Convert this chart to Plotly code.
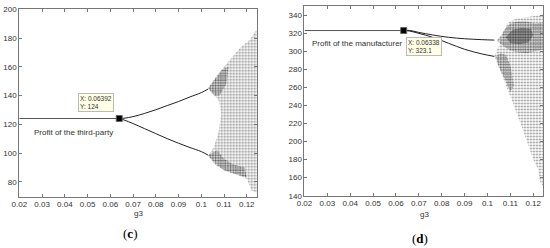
import plotly.graph_objects as go

# ---- panel (c): profit of the third-party ----
flat_x_c = [0.02, 0.06392]
flat_y_c = [124, 124]
branch_x_c = [0.06392, 0.066, 0.07, 0.075, 0.08, 0.085, 0.09, 0.095, 0.1, 0.103]
upper_y_c = [124, 124.2, 125.3, 127.5, 130.1, 133, 135.8, 139, 142, 144.5]
lower_y_c = [124, 123, 120.5, 117, 113.5, 110, 106.8, 103.8, 101, 98.5]
# envelope of the chaotic cloud
cloud_x_c = [0.103, 0.107, 0.11, 0.114, 0.117, 0.12, 0.1215, 0.123, 0.1245,
             0.1245, 0.122, 0.12, 0.117, 0.113, 0.11, 0.107, 0.103,
             0.1055, 0.1075, 0.1088, 0.1078, 0.1055, 0.103]
cloud_y_c = [145, 153, 160, 167, 173, 177, 179, 183, 186,
             72, 74, 82, 84, 86, 88, 92, 98,
             104, 114, 127, 136, 141, 145]
dense_up_x_c = [0.103, 0.106, 0.109, 0.112, 0.111, 0.108, 0.1055, 0.103]
dense_up_y_c = [145, 152, 158, 160, 148, 140, 140, 145]
dense_lo_x_c = [0.103, 0.106, 0.11, 0.114, 0.118, 0.12, 0.119, 0.114, 0.11, 0.107, 0.103]
dense_lo_y_c = [98.5, 92, 88, 86, 84, 83, 90, 92, 96, 102, 98.5]

# ---- panel (d): profit of the manufacturer ----
flat_x_d = [0.02, 0.06338]
flat_y_d = [323.1, 323.1]
branch_x_d = [0.06338, 0.066, 0.07, 0.076, 0.083, 0.09, 0.0975, 0.103]
upper_y_d = [323.1, 323.2, 321, 318.2, 315.6, 314, 313, 312.5]
lower_y_d = [323.1, 322.5, 320, 315.6, 309, 302.3, 297.2, 294.4]
cloud_x_d = [0.103, 0.105, 0.107, 0.109, 0.112, 0.117, 0.1245,
             0.1245, 0.123, 0.122, 0.12, 0.118, 0.116, 0.113, 0.11, 0.107, 0.105, 0.103]
cloud_y_d = [295, 306, 322, 332, 336, 338, 341,
             150, 155, 170, 180, 195, 210, 230, 250, 268, 282, 295]
blob_x_d = [0.104, 0.106, 0.108, 0.11, 0.113, 0.117, 0.121, 0.1245,
            0.1245, 0.121, 0.117, 0.113, 0.11, 0.108, 0.106, 0.104]
blob_y_d = [312, 318, 326, 331, 333, 333, 331, 332,
            302, 300, 298, 299, 301, 304, 308, 312]
core_x_d = [0.108, 0.111, 0.115, 0.119, 0.12, 0.118, 0.114, 0.11, 0.108]
core_y_d = [316, 324, 326, 325, 318, 310, 308, 309, 316]
fan_x_d = [0.1035, 0.106, 0.108, 0.11, 0.1115, 0.11, 0.1075, 0.105, 0.1035]
fan_y_d = [295, 298, 296, 285, 262, 255, 270, 283, 295]

x_ticks = [0.02, 0.03, 0.04, 0.05, 0.06, 0.07, 0.08, 0.09, 0.1, 0.11, 0.12]
x_labels = ["0.02", "0.03", "0.04", "0.05", "0.06", "0.07", "0.08", "0.09", "0.1", "0.11", "0.12"]
y_ticks_c = [80, 100, 120, 140, 160, 180, 200]
y_ticks_d = [140, 160, 180, 200, 220, 240, 260, 280, 300, 320, 340]

fig = go.Figure()


def cloud(x, y, xa, ya, size, solidity):
    fig.add_trace(go.Scatter(
        x=x, y=y, xaxis=xa, yaxis=ya, mode="lines", line=dict(width=0),
        fill="toself", fillcolor="rgba(0,0,0,0)",
        fillpattern=dict(shape=".", fgcolor="#111", bgcolor="rgba(0,0,0,0)",
                         size=size, solidity=solidity),
        hoverinfo="skip"))


def line(x, y, xa, ya, color="#222"):
    fig.add_trace(go.Scatter(x=x, y=y, xaxis=xa, yaxis=ya, mode="lines",
                             line=dict(color=color, width=1, shape="spline"),
                             hoverinfo="skip"))


# panel c
cloud(cloud_x_c, cloud_y_c, "x", "y", 3, 0.38)
cloud(dense_up_x_c, dense_up_y_c, "x", "y", 2.5, 0.5)
cloud(dense_lo_x_c, dense_lo_y_c, "x", "y", 2.5, 0.5)
line(flat_x_c, flat_y_c, "x", "y", "#555")
line(branch_x_c, upper_y_c, "x", "y")
line(branch_x_c, lower_y_c, "x", "y")
fig.add_trace(go.Scatter(x=[0.06392], y=[124], xaxis="x", yaxis="y", mode="markers",
                         marker=dict(symbol="square", size=6, color="black",
                                     line=dict(color="#666", width=1)),
                         hoverinfo="skip"))

# panel d
cloud(cloud_x_d, cloud_y_d, "x2", "y2", 3, 0.28)
cloud(fan_x_d, fan_y_d, "x2", "y2", 2.5, 0.5)
cloud(blob_x_d, blob_y_d, "x2", "y2", 2.5, 0.5)
cloud(core_x_d, core_y_d, "x2", "y2", 2, 0.7)
line(flat_x_d, flat_y_d, "x2", "y2", "#555")
line(branch_x_d, upper_y_d, "x2", "y2")
line(branch_x_d, lower_y_d, "x2", "y2")
fig.add_trace(go.Scatter(x=[0.06338], y=[323.1], xaxis="x2", yaxis="y2", mode="markers",
                         marker=dict(symbol="square", size=6, color="black",
                                     line=dict(color="#666", width=1)),
                         hoverinfo="skip"))

tick_font = dict(family="Liberation Sans, Arial", size=8, color="#333")
ax_common = dict(showgrid=False, zeroline=False, showline=True, linecolor="#777",
                 linewidth=1, mirror="ticks", ticks="inside", ticklen=3,
                 tickcolor="#777", tickfont=tick_font, automargin=False)

tip_font = dict(family="Liberation Sans, Arial", size=6.5, color="#333")
fig.update_layout(
    width=550, height=248,
    margin=dict(l=0, r=0, t=0, b=0),
    paper_bgcolor="white", plot_bgcolor="white",
    showlegend=False, hovermode=False,
    xaxis=dict(domain=[0.0351, 0.4673], range=[0.02, 0.1245], tickvals=x_ticks,
               ticktext=x_labels, anchor="y", **ax_common),
    yaxis=dict(domain=[0.2069, 0.9625], range=[69.6, 200], tickvals=y_ticks_c,
               anchor="x", **ax_common),
    xaxis2=dict(domain=[0.5536, 0.9878], range=[0.02, 0.1244], tickvals=x_ticks,
                ticktext=x_labels, anchor="y2", **ax_common),
    yaxis2=dict(domain=[0.2109, 0.9758], range=[140, 350.3], tickvals=y_ticks_d,
                anchor="x2", **ax_common),
    annotations=[
        dict(x=0.06392, y=124, xref="x", yref="y", text="X: 0.06392<br>Y: 124",
             showarrow=False, xanchor="right", yanchor="bottom", xshift=-5, yshift=7,
             align="left", bgcolor="#ffffe6", bordercolor="#bbb", borderwidth=1,
             borderpad=1, font=tip_font),
        dict(x=0.06338, y=323.1, xref="x2", yref="y2", text="X: 0.06338<br>Y: 323.1",
             showarrow=False, xanchor="left", yanchor="top", xshift=2, yshift=-6,
             align="left", bgcolor="#ffffe6", bordercolor="#bbb", borderwidth=1,
             borderpad=1, font=tip_font),
        dict(x=0.02545, y=114.6, xref="x", yref="y", text="Profit of the third-party",
             showarrow=False, xanchor="left",
             font=dict(family="Liberation Sans, Arial", size=8, color="#333")),
        dict(x=0.0225, y=309, xref="x2", yref="y2", text="Profit of the manufacturer",
             showarrow=False, xanchor="left",
             font=dict(family="Liberation Sans, Arial", size=8, color="#333")),
        dict(x=138, y=213, xref="paper", yref="paper", text="g3", showarrow=False,
             font=dict(family="Liberation Sans, Arial", size=8, color="#333")),
        dict(x=424, y=214, xref="paper", yref="paper", text="g3", showarrow=False,
             font=dict(family="Liberation Sans, Arial", size=8, color="#333")),
        dict(x=130, y=233, xref="paper", yref="paper", text="(<b>c</b>)", showarrow=False,
             font=dict(family="Liberation Serif", size=13, color="black")),
        dict(x=420, y=238, xref="paper", yref="paper", text="(<b>d</b>)", showarrow=False,
             font=dict(family="Liberation Serif", size=13, color="black")),
    ],
)

# convert the pixel positions of the captions to paper coordinates
for ann in fig.layout.annotations:
    if ann.xref == "paper":
        ann.x = ann.x / 550
        ann.y = 1 - ann.y / 248
        ann.xanchor = "center"
        ann.yanchor = "middle"

# the page body has a default 8px margin; remove it so the figure fills the window
fig.write_html("out.html", config={"displayModeBar": False},
               post_script="document.body.style.margin='0px';")
